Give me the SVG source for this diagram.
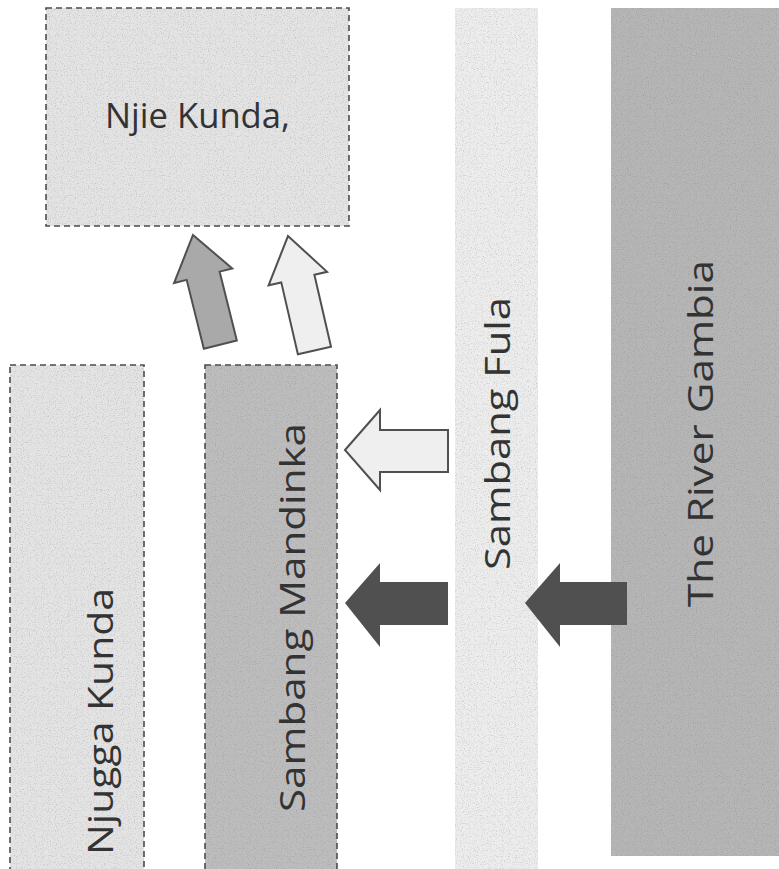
<svg xmlns="http://www.w3.org/2000/svg" width="779" height="869" viewBox="0 0 779 869">
  <style>
    .lbl { font-family: "Open Sans", "Noto Sans", "DejaVu Sans", sans-serif; font-size: 34px; fill: #333333; }
    .dash { stroke: #4a4a4a; stroke-width: 1.6; stroke-dasharray: 6 4; }
    .light { fill: #e4e4e4; }
    .mid { fill: #bdbdbd; }
    .pale { fill: #ededed; }
    .river { fill: #b6b6b6; }
    .darkArrow { fill: #505050; }
    .outlineArrow { fill: #efefef; stroke: #505050; stroke-width: 2; stroke-linejoin: miter; }
    .grayArrow { fill: #a9a9a9; stroke: #505050; stroke-width: 2; stroke-linejoin: miter; }
    .grainy { filter: url(#grain); }
  </style>
  <defs>
    <polygon id="upArrow" points="0,0 30,42 17,42 17,113 -17,113 -17,42 -30,42"/>
    <filter id="grain" x="-2%" y="-2%" width="104%" height="104%">
      <feTurbulence type="fractalNoise" baseFrequency="0.85" numOctaves="2" seed="7" result="n"/>
      <feColorMatrix in="n" type="matrix" values="0 0 0 0 0.2  0 0 0 0 0.2  0 0 0 0 0.2  0 0 0 1.1 -0.55" result="a"/>
      <feComposite in="a" in2="SourceGraphic" operator="in" result="specks"/>
      <feMerge><feMergeNode in="SourceGraphic"/><feMergeNode in="specks"/></feMerge>
    </filter>
  </defs>
  <rect width="779" height="869" fill="#ffffff"/>

  <g id="njie-kunda">
    <rect x="46" y="8" width="303" height="218" class="light dash grainy"/>
    <text x="105" y="128" class="lbl" textLength="185" lengthAdjust="spacingAndGlyphs">Njie Kunda,</text>
  </g>

  <g id="njugga-kunda">
    <rect x="10" y="365" width="134" height="520" class="light dash grainy"/>
    <text transform="translate(113,855) rotate(-90)" class="lbl" textLength="267" lengthAdjust="spacingAndGlyphs">Njugga Kunda</text>
  </g>

  <g id="sambang-mandinka">
    <rect x="205" y="365" width="132" height="520" class="mid dash grainy"/>
    <text transform="translate(305,812) rotate(-90)" class="lbl" textLength="389" lengthAdjust="spacingAndGlyphs">Sambang Mandinka</text>
  </g>

  <g id="sambang-fula">
    <rect x="455" y="8" width="83" height="870" class="pale grainy"/>
    <text transform="translate(510,570) rotate(-90)" class="lbl" textLength="273" lengthAdjust="spacingAndGlyphs">Sambang Fula</text>
  </g>

  <g id="river-gambia">
    <rect x="611" y="8" width="168" height="848" class="river grainy"/>
    <text transform="translate(713,607) rotate(-90)" class="lbl" textLength="347" lengthAdjust="spacingAndGlyphs">The River Gambia</text>
  </g>

  <g id="connectors">
    <use href="#upArrow" class="grayArrow" transform="translate(193,235) rotate(-14)"/>
    <use href="#upArrow" class="outlineArrow" transform="translate(288,236) rotate(-13) scale(1,1.04)"/>
    <polygon class="outlineArrow" points="345,450 380,410 380,430 448,430 448,472 380,472 380,490"/>
    <polygon class="darkArrow" points="345,603 380,563 380,582 448,582 448,625 380,625 380,647"/>
    <polygon class="darkArrow" points="525,603 560,563 560,582 627,582 627,625 560,625 560,647"/>
  </g>
</svg>
